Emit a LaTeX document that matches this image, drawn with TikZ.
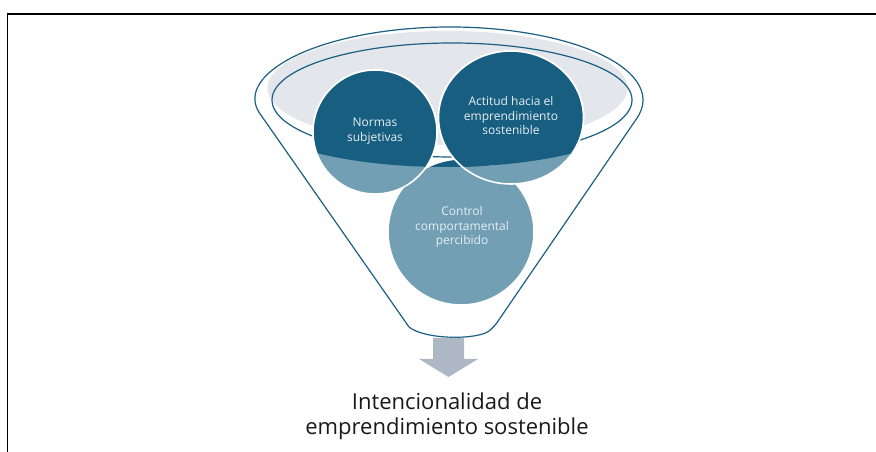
\documentclass[tikz,border=0pt]{standalone}
\usepackage{fontspec}
\setmainfont{Open Sans}
\definecolor{darkc}{HTML}{175E80}
\definecolor{lightc}{HTML}{729FB4}
\definecolor{linec}{HTML}{1B5F82}
\definecolor{grayfill}{HTML}{E3E6EB}
\definecolor{arrowc}{HTML}{ADB8C4}
\definecolor{ctextc}{HTML}{E6EEF3}
\definecolor{btextc}{HTML}{1A1A1A}
\tikzset{
  funnelline/.style={draw=linec, line width=1.2pt},
  bubble/.style={draw=white, line width=1.6pt},
  ctext/.style={text=ctextc, align=center, font=\fontsize{12}{14.5}\selectfont, inner sep=0pt},
  btext/.style={text=btextc, align=center, font=\fontsize{22}{25}\selectfont, inner sep=0pt}
}
\begin{document}
\begin{tikzpicture}[x=1pt,y=1pt]
\useasboundingbox (0,0) rectangle (876,452);
% frame
\draw[line width=1.6pt] (7.5,0) -- (7.5,438) -- (876,438);
% outer funnel
\path[funnelline, fill=white]
  (409,125) [rounded corners=6pt] -- (263.6,333.1) [sharp corners]
  arc[start angle=195, end angle=-15, x radius=193pt, y radius=73pt]
  [rounded corners=6pt] -- (494,125) [sharp corners]
  .. controls (478,112) and (425,112) .. (409,125) -- cycle;
% gray top
\fill[grayfill] (447.5,364) ellipse[x radius=180pt, y radius=57pt];
\draw[funnelline] (452,352) ellipse[x radius=180pt, y radius=57pt];
% bubbles (light)
\filldraw[bubble, fill=lightc] (461,220) circle[radius=73pt];
\filldraw[bubble, fill=lightc] (375,320) circle[radius=62pt];
\filldraw[bubble, fill=lightc] (511,334.5) ellipse[x radius=72.5pt, y radius=66.5pt];
% bubbles (dark part inside the funnel mouth)
\begin{scope}
  \clip (445,352) ellipse[x radius=210pt, y radius=67pt];
  \filldraw[bubble, fill=darkc] (461,220) circle[radius=73pt];
  \filldraw[bubble, fill=darkc] (375,320) circle[radius=62pt];
  \filldraw[bubble, fill=darkc] (511,334.5) ellipse[x radius=72.5pt, y radius=66.5pt];
\end{scope}
% texts
\node[ctext] (control) at (462,225) {Control\\comportamental\\percibido};
\node[ctext] (normas) at (375,321) {Normas\\subjetivas};
\node[ctext] (actitud) at (511,336) {Actitud hacia el\\emprendimiento\\sostenible};
% arrow
\fill[arrowc] (433,114) -- (464,114) -- (464,93) -- (478,93) -- (448.5,75) -- (419,93) -- (433,93) -- cycle;
% result
\node[btext] (result) at (447,36) {Intencionalidad de\\emprendimiento sostenible};
\end{tikzpicture}
\end{document}
